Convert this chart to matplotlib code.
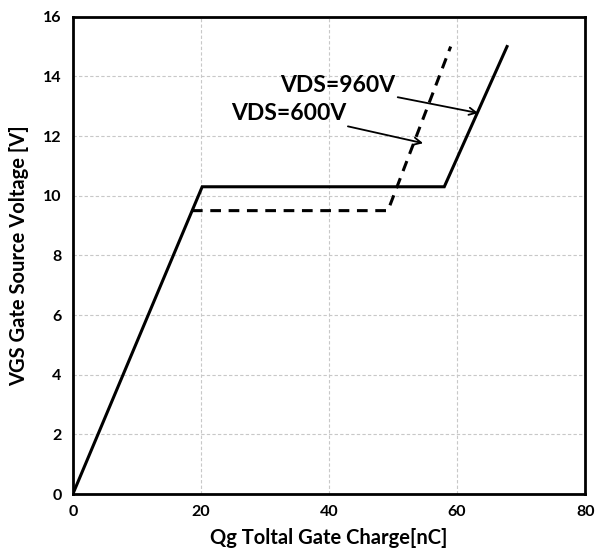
import numpy as np
import matplotlib.pyplot as plt

plt.rcParams['font.family'] = ['Lato', 'DejaVu Sans']
plt.rcParams['font.weight'] = 'bold'

# gate charge curves (Qg [nC], VGS [V])
qg_960 = [0, 20.2, 58.0, 67.8]
vgs_960 = [0, 10.3, 10.3, 15.0]
qg_600 = [18.6, 49.2, 59.0]
vgs_600 = [9.5, 9.5, 15.0]

x_ticks = [0, 20, 40, 60, 80]
y_ticks = [0, 2, 4, 6, 8, 10, 12, 14, 16]


def main():
    fig = plt.figure(figsize=(6.02, 5.57), dpi=100)
    ax = fig.add_axes([0.121, 0.113, 0.851, 0.857])

    ax.plot(qg_960, vgs_960, color='black', lw=2.2, solid_joinstyle='miter')
    ax.plot(qg_600, vgs_600, color='black', lw=2.2, ls=(0, (3.5, 2.5)))

    ax.set_xlim(0, 80)
    ax.set_ylim(0, 16)
    ax.set_xticks(x_ticks)
    ax.set_yticks(y_ticks)
    ax.tick_params(length=0, labelsize=11.5, pad=8)
    for lab in ax.get_xticklabels() + ax.get_yticklabels():
        lab.set_fontweight('bold')
    ax.grid(True, color='#c8c8c8', ls=(0, (3, 2)), lw=0.8)
    for s in ax.spines.values():
        s.set_linewidth(2)

    ax.set_xlabel('Qg Toltal Gate Charge[nC]', fontsize=14.5, fontweight='bold', labelpad=6)
    ax.set_ylabel('VGS Gate Source Voltage [V]', fontsize=14.5, fontweight='bold', labelpad=10)

    arrow = dict(arrowstyle='->', color='black', lw=1.3, shrinkA=0, shrinkB=0,
                 mutation_scale=13)
    ax.annotate('VDS=960V', xy=(63.3, 12.77), xytext=(50.3, 13.7),
                ha='right', va='center', fontsize=16.5, fontweight='bold',
                arrowprops=arrow)
    ax.annotate('VDS=600V', xy=(54.7, 11.76), xytext=(42.7, 12.77),
                ha='right', va='center', fontsize=16.5, fontweight='bold',
                arrowprops=arrow)

    fig.savefig('out.png', dpi=100)


if __name__ == '__main__':
    main()
